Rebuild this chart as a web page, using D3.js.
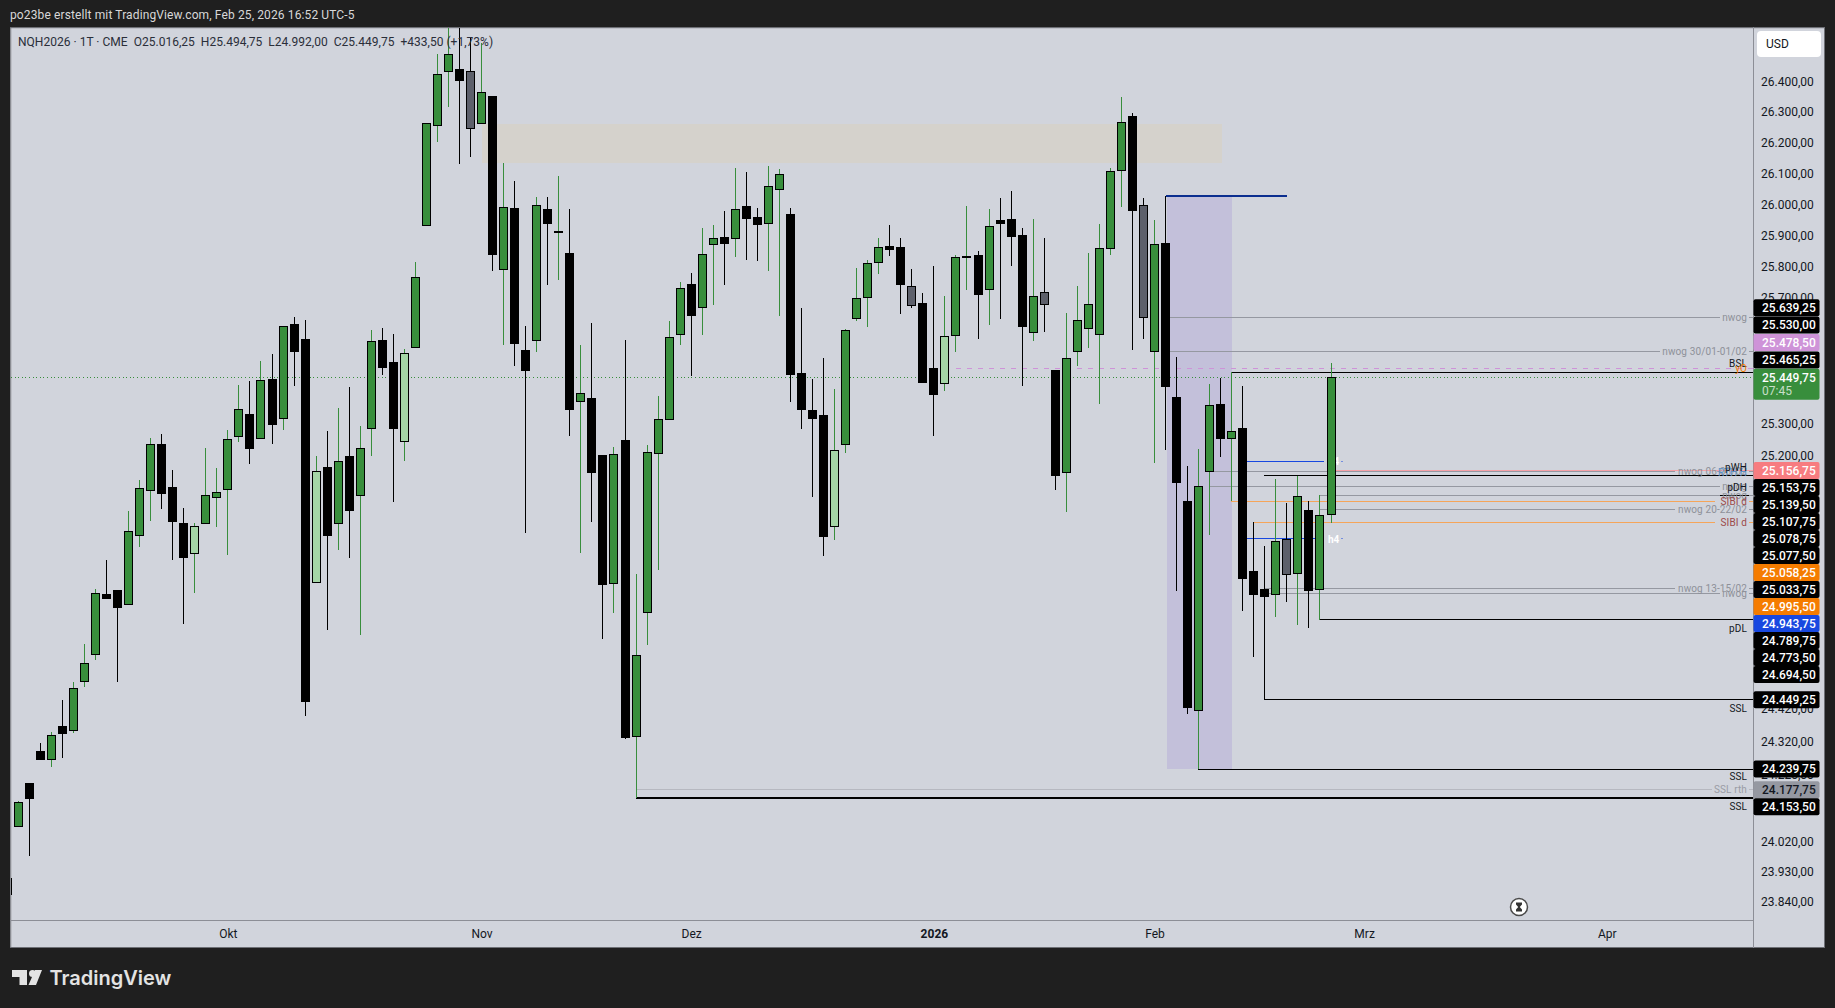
<!DOCTYPE html>
<html><head><meta charset="utf-8">
<script src="https://cdn.jsdelivr.net/npm/d3@7/dist/d3.min.js"></script>
<style>html,body{margin:0;padding:0;background:#1f1f1f;overflow:hidden}svg{display:block}text{font-family:Roboto,sans-serif;white-space:pre}</style>
</head><body><svg id="c" width="1835" height="1008"></svg>
<script>
// --- data ---
const opens=[23914,24065,24198,24295,24266,24370,24354,24505,24585,24773,24785,24738,24953,25094,25240,25105,24992,24897,24990,25072,25097,25263,25335,25254,25444,25317,25618,25571,24808,25169,24990,25201,25078,25286,25567,25497,25245,25542,25932,26256,26434,26443,26437,26265,26356,25793,25990,25536,25566,25987,25909,25845,25373,25384,25205,24803,25252,24336,24716,25209,25316,25583,25746,25671,25873,25897,25892,25997,25961,25941,26048,25972,25462,25346,25332,24981,25237,25636,25701,25815,25868,25866,25740,25685,25478,25430,25581,25830,25839,25726,25953,25956,25904,25591,25721,25473,25150,25529,25604,25585,25860,26112,26290,26000,25529,25877,25387,25062,24414,25153,25365,25256,25290,24844,24788,24771,24942,24835,25033,24786,25016.25];
const highs=[23914,24144,24198,24317,24353,24449,24504,24620,24789,24878,24785,25030,25126,25258,25272,25157,25040,24992,25227,25164,25284,25425,25438,25502,25524,25612,25642,25632,25202,25281,25353,25420,25296,25600,25606,25587,25540,25817,26266,26494,26620,26620,26551,26529,26356,26136,26078,25613,26027,26027,26095,25988,25552,25622,25205,25230,25568,24835,25236,25391,25629,25754,25781,25927,25937,25982,26121,26108,25991,26128,26118,25991,25671,25444,25511,25413,25603,25798,25823,25895,25937,25895,25795,25717,25805,25709,25839,25998,25852,25988,26023,26047,25927,25956,25895,25473,25655,25741,25846,25940,26121,26353,26300,26023,25953,26030,25515,25171,25224,25428,25447,25467,25422,24996,24921,25130,25055,25139,25062,25080,25494.75];
const lows=[23864,24065,23978,24266,24247,24272,24348,24487,24572,24759,24503,24738,24919,25000,25036,24878,24681,24776,24990,24981,24895,25247,25178,25254,25240,25282,25423,24401,24808,24661,24909,24885,24648,25203,25457,25057,25187,25542,25932,26206,26321,26135,26158,26265,25787,25552,25484,24963,25529,25744,25760,25265,24901,24997,24636,24716,24329,24153.5,24617,24847,25316,25552,25454,25584,25680,25744,25834,25824,25821,25787,25645,25373,25288,25075,24890,24940,25212,25629,25611,25779,25837,25651,25670,25432,25265,25407,25531,25728,25571,25616,25635,25805,25423,25565,25594,25096,25027,25486,25543,25365,25840,25996,25537,25571,25181,25221,24783,24407,24239.75,24955,25200,25060,24721,24581,24449.25,24703,24749,24678,24669,24694.5,24992];
const closes=[23864,24141,24149,24266,24343,24345,24485,24563,24775,24759,24729,24969,25101,25241,25082,24996,24885,24985,25080,25089,25254,25349,25224,25440,25300,25612,25531,24444,25156,24953,25186,25030,25226,25564,25479,25286,25527,25769,26266,26427,26493,26406,26249,26369,25840,25994,25556,25471,26000,25941,25917,25345,25400,25150,24802,25207,24333,24585,25214,25317,25577,25733,25646,25842,25894,25876,25987,25957,25935,26062,26101,25457,25348,25319,24950,25220,25599,25701,25813,25865,25856,25744,25675,25432,25394,25580,25833,25837,25712,25933,25940,25898,25610,25708,25681,25140,25510,25631,25682,25861,26111,26271,25983,25639,25874,25420,25116,24423,25107,25361,25256,25280,24820,24771,24765,24936,24832,25076,24783,25016.25,25449.75];
// candle shade: b = black, g = green, l = light green, s = slate
const shadeRows=["b","gbbgbgggbb","gggbbblggg","gbgbgbblbg","bggbblgggg","bsgbgbbgbg","bgbbgbgggg","gbggbgbbgg","bbbblggggb","bsbblggbgb","bbgsbggggg","gbsgbbbggb","gbbbgsgbgg"];
const shades=shadeRows.join("").split("");
const priceTicks=[26400,26300,26200,26100,26000,25900,25800,25700,25300,25200,24420,24320,24220,24020,23930,23840];
const monthLabels=["Okt","Nov","Dez","2026","Feb","Mrz","Apr"];
const monthBars=[20,43,62,84,104,123,145];
// levels: price, first bar, last label x is shared
const levelPrices=[25639.25,25530,25465.25,25156.75,25153.75,25139.5,25107.75,25078.75,25077.5,25058.25,25033.75,24995.5,24789.75,24773.5,24694.5,24449.25,24239.75,24177.75,24153.5];
const levelStarts=[105,105,111,120,109,114,109,119,119,111,119,113,114,114,119,114,108,57,57];
const levelTypes=["n","n","k","p","n","k","n","k","n","o","n","o","n","n","k","k","k","r","K"];
const levelEndsAtText=[24,84,0,0,69,0,24,0,24,29,69,29,69,24,0,0,0,32,0];
const noteTexts=["nwog","nwog 30/01-01/02","BSL","yO","nwog 06-08/02","RTH H","pWH","nwog","pDH","nwog","SIBI d","nwog 20-22/02","SIBI d","nwog 13-15/02","nwog","pDL","SSL","SSL","SSL rth","SSL"];
const notePrices=[25639.25,25530,25493,25478.5,25153.75,25151,25166,25107.75,25102,25077.5,25058.25,25033.75,24995.5,24789.75,24773.5,24667,24423,24216,24177.75,24127];
const noteKinds=["g","g","k","y","g","u","k","g","k","g","r","g","r","g","g","k","k","k","q","k"];
const axisValues=[25639.25,25530,25478.5,25465.25,25449.75,25156.75,25153.75,25139.5,25107.75,25078.75,25077.5,25058.25,25033.75,24995.5,24943.75,24789.75,24773.5,24694.5,24449.25,24239.75,24177.75,24153.5];
const axisColors=["#000","#000","#ce93d8","#000","#388e3c","#f77c80","#000","#000","#000","#000","#000","#f57c00","#000","#f57c00","#1848e0","#000","#000","#000","#000","#000","#9598a1","#000"];
const countdown="07:45";
const headerText="po23be erstellt mit TradingView.com, Feb 25, 2026 16:52 UTC-5";
const symbolText="NQH2026 · 1T · CME";
const pctText="+433,50 (+1,73%)";

// --- scales ---
const svg=d3.select("#c");
const L=11,R=1753,T=28,B=920;
const x=d3.scaleLinear().domain([1,120]).range([18.3,1331]);
const y=d3.scaleLog().domain([25449.75,24153.5]).range([377.3,797.7]);
const fmt=d3.formatLocale({decimal:",",thousands:".",grouping:[3],currency:["","$"]}).format(",.2f");
const px=v=>Math.round(v-0.5);

svg.append("rect").attr("width",1835).attr("height",1008).attr("fill","#1f1f1f");
svg.append("rect").attr("x",10).attr("y",27).attr("width",1814.5).attr("height",920.5).attr("fill","#d1d4dc");
svg.append("rect").attr("x",10).attr("y",27).attr("width",1.3).attr("height",921).attr("fill","#8a8c92");
svg.append("rect").attr("x",10).attr("y",27).attr("width",1815).attr("height",1.2).attr("fill","#6e7076");
svg.append("rect").attr("x",10).attr("y",947).attr("width",1815).attr("height",1).attr("fill","#6e7076");
svg.append("rect").attr("x",1824).attr("y",27).attr("width",1).attr("height",921).attr("fill","#6e7076");
svg.append("defs").append("clipPath").attr("id","pane").append("rect").attr("x",L).attr("y",T).attr("width",R-L).attr("height",B-T);
const pane=svg.append("g").attr("clip-path","url(#pane)").attr("shape-rendering","crispEdges");

// zones
pane.append("rect").attr("x",x(43)).attr("width",x(110.1)-x(43)).attr("y",y(26265)).attr("height",y(26136)-y(26265)).attr("fill","#d5d2cc");
pane.append("rect").attr("x",x(105.1)).attr("width",x(111)-x(105.1)).attr("y",y(26031)).attr("height",y(24239.75)-y(26031)).attr("fill","#c3c0da");

// level lines
const levelColor={n:"#9598a1",k:"#000",K:"#000",p:"#f5a0a6",o:"#f5a55a",r:"#b6b8c0"};
levelPrices.forEach((p,i)=>{
  const t=levelTypes[i],x0=px(x(levelStarts[i])),x1=levelEndsAtText[i]?1747-levelEndsAtText[i]-3:R;
  pane.append("rect").attr("x",x0).attr("width",x1-x0).attr("y",Math.round(y(p)-0.5)).attr("height",t==="K"?2:1).attr("fill",levelColor[t]);
  if(levelEndsAtText[i]) pane.append("rect").attr("x",1749).attr("width",4).attr("y",Math.round(y(p)-0.5)).attr("height",1).attr("fill",levelColor[t]);
});
// dashed previous open
const yoY=Math.round(y(25478.5)-0.5)+0.5;
pane.append("line").attr("x1",x(86)).attr("x2",R).attr("y1",yoY).attr("y2",yoY).attr("stroke","#ce93d8").attr("stroke-dasharray","5 6");
// blue and navy lines
[25186,24943.75].forEach(p=>{
  pane.append("rect").attr("x",x(112)).attr("width",x(119.4)-x(112)).attr("y",Math.round(y(p)-0.5)).attr("height",1).attr("fill","#1848e0");
  svg.append("text").attr("x",1328).attr("y",y(p)+4).attr("font-size",10).attr("font-weight",700).attr("fill","#fff").text("h4");
  svg.append("rect").attr("x",1341.5).attr("y",Math.round(y(p)-0.5)).attr("width",1).attr("height",1).attr("fill","#1848e0");
});
pane.append("rect").attr("x",x(105)).attr("width",x(116)-x(105)).attr("y",Math.round(y(26031))-1).attr("height",2).attr("fill","#0b2e8f");
// current price
const cpY=Math.round(y(closes[closes.length-1])-0.5)+0.5;
pane.append("line").attr("x1",L).attr("x2",R).attr("y1",cpY).attr("y2",cpY).attr("stroke","#388e3c").attr("stroke-dasharray","1 2.6");

// candles
const wickFill={b:"#000",s:"#000",g:"#388e3c",l:"#388e3c"};
const bodyFill={b:"#000",s:"#5d606b",g:"#388e3c",l:"#a5d6a7"};
const candles=d3.range(opens.length).map(i=>({i,o:opens[i],h:highs[i],l:lows[i],c:closes[i],k:shades[i]}));
const cG=svg.append("g").attr("clip-path","url(#pane)").attr("shape-rendering","crispEdges");
const cg=cG.selectAll("g").data(candles).join("g");
cg.append("rect").attr("x",d=>px(x(d.i))).attr("width",1).attr("y",d=>y(d.h)).attr("height",d=>y(d.l)-y(d.h)).attr("fill",d=>wickFill[d.k]);
cg.append("rect")
  .attr("x",d=>px(x(d.i))-4+0.5).attr("width",8)
  .attr("y",d=>Math.round(y(Math.max(d.o,d.c)))+0.5)
  .attr("height",d=>Math.max(1,Math.round(y(Math.min(d.o,d.c)))-Math.round(y(Math.max(d.o,d.c)))-1))
  .attr("fill",d=>bodyFill[d.k]).attr("stroke","#000").attr("stroke-width",1);

// notes at right edge
const noteFill={g:"#8e9199",k:"#131722",y:"#f57c00",u:"#5b8fc4",r:"#9c4a4a",q:"#9a9ca5"};
notePrices.forEach((p,i)=>{
  svg.append("text").attr("x",1747).attr("y",y(p)+3.5).attr("text-anchor","end").attr("font-size",10).attr("letter-spacing",0.12).attr("fill",noteFill[noteKinds[i]]).text(noteTexts[i]);
});

// axes
svg.append("rect").attr("x",R).attr("y",27).attr("width",1).attr("height",921).attr("fill","#8c8e96");
svg.append("rect").attr("x",10).attr("y",920).attr("width",R-10).attr("height",1).attr("fill","#8c8e96");
const yAxis=d3.axisRight(y).tickValues(priceTicks).tickSize(0).tickPadding(8).tickFormat(fmt);
const ya=svg.append("g").attr("transform",`translate(${R},-1)`).call(yAxis);
ya.select(".domain").remove();
ya.selectAll("text").attr("font-size",12).attr("fill","#131722").attr("font-family","Roboto,sans-serif");

const xAxis=d3.axisBottom(x).tickValues(monthBars).tickSize(0).tickPadding(9).tickFormat((d,i)=>monthLabels[i]);
const xa=svg.append("g").attr("transform",`translate(0,${B})`).call(xAxis);
xa.select(".domain").remove();
xa.selectAll("text").attr("font-size",12).attr("fill","#131722").attr("font-family","Roboto,sans-serif").attr("font-weight",(d,i)=>monthLabels[i]==="2026"?700:400);

// stacked axis price labels
const cpIdx=axisValues.indexOf(closes[closes.length-1]);
const slots=axisValues.map(v=>y(v));
for(let i=cpIdx-1;i>=0;i--) slots[i]=Math.min(slots[i],slots[i+1]-17.4);
for(let i=cpIdx+2;i<slots.length;i++) slots[i]=Math.max(slots[i],slots[i-1]+17);
axisValues.forEach((v,i)=>{
  const big=i===cpIdx, yc=slots[i];
  svg.append("rect").attr("x",R+0.5).attr("y",yc-8.5).attr("width",66).attr("height",big?31:17).attr("rx",2).attr("fill",axisColors[i]);
  svg.append("text").attr("x",1762).attr("y",yc+4.2).attr("font-size",12).attr("font-weight",500).attr("fill",axisColors[i]==="#9598a1"?"#131722":"#fff").text(fmt(v));
  if(big) svg.append("text").attr("x",1762).attr("y",yc+17.5).attr("font-size",12).attr("fill","rgba(255,255,255,.72)").text(countdown);
});

// currency button
svg.append("rect").attr("x",1757).attr("y",31).attr("width",64).attr("height",26).attr("rx",4).attr("fill","#fff");
svg.append("text").attr("x",1766).attr("y",48).attr("font-size",12).attr("fill","#131722").text("USD");

// legend + header
const last=opens.length-1;
svg.append("text").attr("x",18).attr("y",46).attr("font-size",12).attr("letter-spacing",0.02).attr("fill","#2a2e39")
  .text(`${symbolText}  O${fmt(opens[last])}  H${fmt(highs[last])}  L${fmt(lows[last])}  C${fmt(closes[last])}  ${pctText}`);
svg.append("text").attr("x",10).attr("y",19).attr("font-size",12).attr("letter-spacing",0.12).attr("fill","#d8d8d8").text(headerText);

// hourglass button
const hg=svg.append("g").attr("transform","translate(1519,907)");
hg.append("circle").attr("r",8.5).attr("fill","#fff").attr("stroke","#4a4a4a").attr("stroke-width",1.5);
hg.append("path").attr("d","M-3,-4.5H3V-2.5L0.8,0L3,2.5V4.5H-3V2.5L-0.8,0L-3,-2.5Z").attr("fill","#333");

// logo
const logo=svg.append("g").attr("fill","#e3e3e3");
logo.append("path").attr("d","M12,970H27V985H19.5V977H12Z");
logo.append("circle").attr("cx",32.5).attr("cy",973.5).attr("r",3.5);
logo.append("path").attr("d","M35,970H42L36,985H28.5Z");
logo.append("text").attr("x",49.5).attr("y",985).attr("font-size",20).attr("font-weight",600).attr("style","font-family:Inter,Roboto,sans-serif").text("TradingView");
</script></body></html>
